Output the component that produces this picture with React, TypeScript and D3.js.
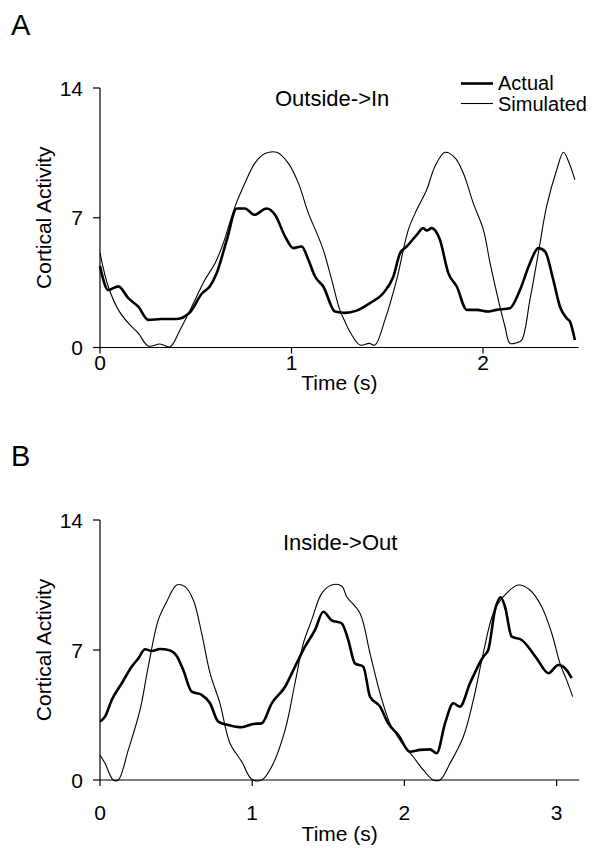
import React from "react";
import * as d3 from "d3";

// Panel A: Outside->In
const actualA_t = [0, 0.043, 0.096, 0.148, 0.2, 0.252, 0.322, 0.4, 0.47, 0.531, 0.574, 0.609, 0.662, 0.714, 0.757, 0.806, 0.87, 0.914, 0.966, 1.009, 1.053, 1.088, 1.123, 1.166, 1.227, 1.279, 1.34, 1.41, 1.479, 1.532, 1.567, 1.602, 1.654, 1.688, 1.706, 1.732, 1.775, 1.819, 1.863, 1.915, 1.967, 2.028, 2.071, 2.141, 2.193, 2.245, 2.289, 2.324, 2.367, 2.402, 2.437, 2.454, 2.48];
const actualA_v = [4.4, 3.1, 3.3, 2.66, 2.2, 1.49, 1.54, 1.54, 1.9, 2.9, 3.3, 4.0, 5.8, 7.5, 7.5, 7.16, 7.5, 7.16, 6.0, 5.36, 5.45, 4.73, 3.83, 3.29, 1.94, 1.87, 1.99, 2.39, 2.93, 3.83, 5.09, 5.45, 6.08, 6.44, 6.31, 6.44, 5.81, 4.01, 3.29, 2.03, 2.03, 1.94, 2.03, 2.12, 3.1, 4.55, 5.36, 5.18, 3.65, 2.2, 1.58, 1.4, 0.4];
const simA_t = [0, 0.043, 0.096, 0.148, 0.2, 0.252, 0.313, 0.366, 0.418, 0.479, 0.548, 0.601, 0.644, 0.705, 0.757, 0.809, 0.862, 0.923, 0.983, 1.036, 1.088, 1.132, 1.166, 1.21, 1.253, 1.279, 1.305, 1.358, 1.406, 1.436, 1.488, 1.549, 1.61, 1.654, 1.706, 1.749, 1.802, 1.854, 1.897, 1.949, 2.002, 2.037, 2.08, 2.115, 2.141, 2.176, 2.202, 2.245, 2.289, 2.332, 2.385, 2.42, 2.446, 2.48];
const simA_v = [5.1, 3.29, 2.03, 1.31, 0.77, 0.08, 0.19, 0.04, 0.95, 2.2, 3.65, 4.55, 5.63, 7.6, 8.87, 9.95, 10.46, 10.53, 9.95, 8.87, 7.25, 6.17, 5.27, 3.65, 2.0, 1.4, 0.85, 0.13, 0.22, 0.13, 1.49, 3.65, 6.35, 7.43, 8.51, 9.77, 10.53, 10.23, 9.41, 7.79, 6.35, 4.55, 2.57, 1.12, 0.22, 0.26, 0.4, 2.57, 5.09, 7.6, 9.59, 10.53, 10.05, 9.05];

// Panel B: Inside->Out
const actualB_t = [0, 0.033, 0.077, 0.143, 0.208, 0.252, 0.296, 0.34, 0.394, 0.449, 0.504, 0.547, 0.602, 0.668, 0.723, 0.777, 0.843, 0.931, 1.007, 1.062, 1.128, 1.216, 1.281, 1.347, 1.413, 1.467, 1.522, 1.588, 1.631, 1.675, 1.73, 1.774, 1.84, 1.894, 1.96, 2.037, 2.102, 2.168, 2.212, 2.267, 2.321, 2.365, 2.431, 2.518, 2.551, 2.595, 2.633, 2.661, 2.705, 2.771, 2.869, 2.946, 3.011, 3.066, 3.099];
const actualB_v = [3.14, 3.41, 4.31, 5.21, 6.1, 6.55, 7.04, 6.95, 7.05, 7.0, 6.68, 5.92, 4.76, 4.58, 4.13, 3.14, 2.96, 2.84, 3.02, 3.05, 4.13, 5.02, 6.1, 7.18, 8.08, 9.06, 8.6, 8.44, 7.54, 6.28, 6.1, 4.49, 3.95, 3.05, 2.42, 1.52, 1.62, 1.65, 1.44, 3.05, 4.13, 3.95, 5.21, 6.64, 7.0, 9.15, 9.84, 9.33, 7.72, 7.54, 6.55, 5.75, 6.19, 5.92, 5.48];
const simB_t = [0, 0.033, 0.087, 0.12, 0.186, 0.263, 0.317, 0.383, 0.438, 0.504, 0.558, 0.613, 0.668, 0.723, 0.788, 0.854, 0.931, 0.997, 1.062, 1.128, 1.216, 1.281, 1.336, 1.391, 1.457, 1.522, 1.588, 1.621, 1.708, 1.774, 1.84, 1.905, 1.971, 2.058, 2.124, 2.19, 2.234, 2.3, 2.387, 2.453, 2.518, 2.584, 2.65, 2.748, 2.825, 2.902, 2.968, 3.022, 3.066, 3.106];
const simB_v = [1.35, 0.9, 0, 0, 1.62, 3.77, 6.1, 8.62, 9.6, 10.5, 10.41, 9.69, 7.9, 5.75, 4.13, 1.98, 0.99, 0.04, 0, 0.72, 2.69, 5.21, 7.36, 8.62, 10.05, 10.5, 10.45, 9.87, 8.98, 6.82, 4.67, 3.05, 2.15, 1.25, 0.54, 0, 0, 0.9, 2.33, 4.31, 6.82, 8.98, 9.87, 10.5, 10.23, 9.33, 7.9, 6.28, 5.38, 4.49];

const yTicks = [0, 7, 14];
const xTicksA = [0, 1, 2];
const xTicksB = [0, 1, 2, 3];

const FONT = "'Liberation Sans', Arial, Helvetica, sans-serif";

type PanelProps = {
  letter: string;
  letterY: number;
  title: string;
  titleX: number;
  titleY: number;
  xMax: number;
  xTicks: number[];
  top: number;
  bottom: number;
  actualT: number[];
  actualV: number[];
  simT: number[];
  simV: number[];
  tickLabelY: number;
  xTitleY: number;
  legend: boolean;
};

function Panel(p: PanelProps) {
  const x0 = 100;
  const pxPerSec = p.xMax > 2.6 ? 152.2 : 191.5;
  const x1 = x0 + pxPerSec * p.xMax;
  const x = d3.scaleLinear().domain([0, p.xMax]).range([x0, x1]);
  const y = d3.scaleLinear().domain([0, 14]).range([p.bottom, p.top]);
  const lineA = d3
    .line<[number, number]>()
    .x((d) => x(d[0]))
    .y((d) => y(d[1]))
    .curve(d3.curveMonotoneX);
  const lineS = d3
    .line<[number, number]>()
    .x((d) => x(d[0]))
    .y((d) => y(d[1]))
    .curve(d3.curveCatmullRom.alpha(0.5));
  const act = lineA(p.actualT.map((t, i) => [t, p.actualV[i]] as [number, number])) || "";
  const sim = lineS(p.simT.map((t, i) => [t, p.simV[i]] as [number, number])) || "";
  const midY = (p.top + p.bottom) / 2;
  return (
    <g fontFamily={FONT} fill="#000">
      <text x={11} y={p.letterY} fontSize={29}>{p.letter}</text>
      <text x={p.titleX} y={p.titleY} fontSize={22}>{p.title}</text>
      {/* y axis */}
      <line x1={x0} x2={x0} y1={p.top} y2={p.bottom} stroke="#000" strokeWidth={1.2} />
      {yTicks.map((t) => (
        <g key={"y" + t}>
          <line x1={x0 - 7} x2={x0} y1={y(t)} y2={y(t)} stroke="#000" strokeWidth={1.2} />
          <text x={83} y={y(t)} fontSize={21} textAnchor="end" dominantBaseline="central">{t}</text>
        </g>
      ))}
      {/* x axis */}
      <line x1={x0} x2={x1} y1={p.bottom} y2={p.bottom} stroke="#000" strokeWidth={1.2} />
      {p.xTicks.map((t) => (
        <g key={"x" + t}>
          <line x1={x(t)} x2={x(t)} y1={p.bottom} y2={p.bottom + 6} stroke="#000" strokeWidth={1.2} />
          <text x={x(t)} y={p.tickLabelY} fontSize={21} textAnchor="middle">{t}</text>
        </g>
      ))}
      <text x={(x0 + x1) / 2} y={p.xTitleY} fontSize={21} textAnchor="middle">Time (s)</text>
      <text transform={`translate(51,${midY}) rotate(-90)`} fontSize={21} textAnchor="middle">Cortical Activity</text>
      <path d={sim} fill="none" stroke="#000" strokeWidth={1.1} />
      <path d={act} fill="none" stroke="#000" strokeWidth={2.6} strokeLinejoin="round" />
      {p.legend && (
        <g>
          <line x1={461} x2={493} y1={83.5} y2={83.5} stroke="#000" strokeWidth={2.6} />
          <text x={498} y={90} fontSize={20}>Actual</text>
          <line x1={461} x2={493} y1={103.5} y2={103.5} stroke="#000" strokeWidth={1.1} />
          <text x={498} y={110.5} fontSize={20}>Simulated</text>
        </g>
      )}
    </g>
  );
}

export default function App() {
  return (
    <svg
      width={595}
      height={848}
      style={{ position: "absolute", left: 0, top: 0, background: "#fff" }}
    >
      <rect x={0} y={0} width={595} height={848} fill="#fff" />
      <Panel
        letter="A"
        letterY={35}
        title="Outside->In"
        titleX={275}
        titleY={106}
        xMax={2.5}
        xTicks={xTicksA}
        top={88}
        bottom={347.5}
        actualT={actualA_t}
        actualV={actualA_v}
        simT={simA_t}
        simV={simA_v}
        tickLabelY={370}
        xTitleY={390}
        legend={true}
      />
      <Panel
        letter="B"
        letterY={466}
        title="Inside->Out"
        titleX={283}
        titleY={550}
        xMax={3.15}
        xTicks={xTicksB}
        top={520}
        bottom={780}
        actualT={actualB_t}
        actualV={actualB_v}
        simT={simB_t}
        simV={simB_v}
        tickLabelY={820}
        xTitleY={841}
        legend={false}
      />
    </svg>
  );
}
